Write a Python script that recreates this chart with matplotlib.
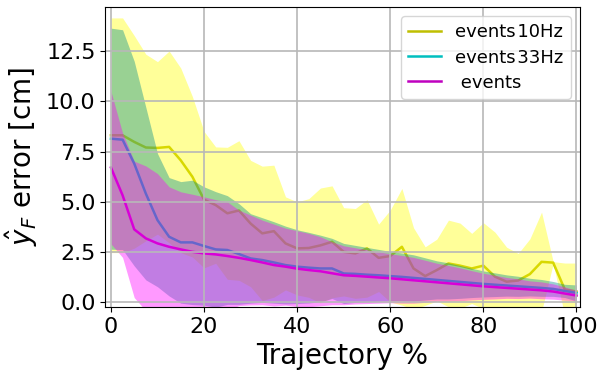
import matplotlib

matplotlib.use("Agg", force=True)
import matplotlib.pyplot as plt
import numpy as np

# trajectory progress (%)
traj_pct = [0, 2.5, 5, 7.5, 10, 12.5, 15, 17.5, 20, 22.5, 25, 27.5, 30, 32.5, 35, 37.5,
            40, 42.5, 45, 47.5, 50, 52.5, 55, 57.5, 60, 62.5, 65, 67.5, 70, 72.5, 75,
            77.5, 80, 82.5, 85, 87.5, 90, 92.5, 95, 97.5, 100]

# mean error [cm]
err_10hz = [8.31, 8.31, 7.98, 7.70, 7.68, 7.73, 7.06, 6.24, 5.10, 4.83, 4.42, 4.56, 3.91,
            3.42, 3.53, 2.92, 2.67, 2.69, 2.82, 3.00, 2.50, 2.42, 2.67, 2.20, 2.29, 2.75,
            1.67, 1.29, 1.59, 1.92, 1.81, 1.67, 1.81, 1.26, 1.01, 1.07, 1.39, 2.00, 1.96,
            0.62, 0.52]
err_33hz = [8.14, 8.09, 6.90, 5.40, 4.08, 3.25, 2.97, 2.97, 2.79, 2.62, 2.59, 2.39, 2.17,
            2.09, 1.97, 1.84, 1.76, 1.71, 1.67, 1.67, 1.42, 1.40, 1.36, 1.33, 1.29, 1.25,
            1.20, 1.15, 1.10, 1.05, 1.00, 0.95, 0.90, 0.86, 0.82, 0.78, 0.74, 0.70, 0.65,
            0.55, 0.45]
err_events = [6.70, 5.32, 3.62, 3.17, 2.92, 2.75, 2.62, 2.50, 2.42, 2.37, 2.29, 2.20, 2.09,
              1.97, 1.84, 1.76, 1.66, 1.59, 1.53, 1.43, 1.33, 1.30, 1.26, 1.22, 1.18, 1.13,
              1.08, 1.03, 0.98, 0.93, 0.88, 0.83, 0.78, 0.74, 0.70, 0.66, 0.62, 0.58, 0.52,
              0.42, 0.32]

# standard deviation [cm]
std_10hz = [5.85, 5.85, 5.30, 4.65, 4.30, 4.78, 4.60, 4.00, 3.40, 2.90, 3.29, 3.48, 3.15,
            3.35, 3.29, 2.32, 2.32, 2.46, 2.86, 2.79, 2.20, 2.24, 2.43, 1.68, 2.29, 2.91,
            2.03, 1.46, 1.54, 2.16, 2.12, 1.75, 2.14, 2.22, 1.72, 1.35, 1.76, 2.48, 0.05,
            1.32, 1.42]
std_33hz = [5.51, 5.48, 5.10, 4.30, 3.32, 2.95, 3.03, 3.10, 2.95, 2.88, 2.71, 2.51, 2.23,
            2.11, 2.03, 1.94, 1.84, 1.76, 1.66, 1.50, 1.50, 1.42, 1.36, 1.29, 1.23, 1.19,
            1.15, 1.05, 0.95, 0.90, 0.82, 0.73, 0.65, 0.59, 0.53, 0.50, 0.44, 0.42, 0.37,
            0.33, 0.40]
std_events = [3.80, 3.10, 3.40, 3.61, 3.48, 2.99, 2.87, 2.87, 2.82, 2.73, 2.70, 2.38, 2.24,
              2.11, 2.04, 1.92, 1.89, 1.83, 1.72, 1.57, 1.47, 1.40, 1.34, 1.28, 1.22, 1.19,
              1.14, 1.05, 0.95, 0.89, 0.82, 0.73, 0.65, 0.59, 0.52, 0.49, 0.43, 0.42, 0.38,
              0.33, 0.26]

series = [
    ("events\u200a10Hz", err_10hz, std_10hz, "y", "yellow"),
    ("events\u200a33Hz", err_33hz, std_33hz, "c", (0.0, 0.55, 0.55)),
    (" events", err_events, std_events, "m", "magenta"),
]

fig, ax = plt.subplots(figsize=(6.02, 3.73), dpi=100)
x = np.asarray(traj_pct, dtype=float)
for label, mean, std, line_col, fill_col in series:
    mean = np.asarray(mean)
    std = np.asarray(std)
    # lines sit under the later bands, as in the original
    ax.plot(x, mean, color=line_col, linewidth=1.8, label=label, zorder=1)
    ax.fill_between(x, mean - std, mean + std, color=fill_col, alpha=0.4,
                    linewidth=0, zorder=1)

ax.set_xlim(-1.2, 100.7)
ax.set_ylim(-0.25, 14.7)
ax.set_yticks([0.0, 2.5, 5.0, 7.5, 10.0, 12.5])
ax.set_xticks([0, 20, 40, 60, 80, 100])
ax.grid(True, color="#b8b8b8", linewidth=1.2)
ax.tick_params(labelsize=16)
ax.set_xlabel("Trajectory %", fontsize=20)
ax.set_ylabel(r"$\hat{y}_F$ error [cm]", fontsize=20)
ax.legend(loc="upper right", fontsize=13, handlelength=1.8, labelspacing=0.4)

fig.subplots_adjust(left=0.175, right=0.963, top=0.981, bottom=0.177)
fig.savefig("out.png", dpi=100)
plt.close(fig)
